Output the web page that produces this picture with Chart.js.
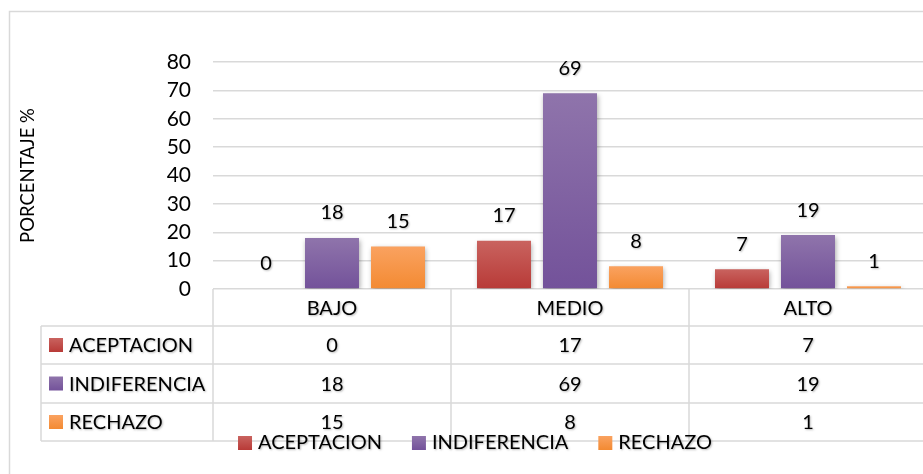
<!DOCTYPE html>
<html>
<head>
<meta charset="utf-8">
<script src="https://cdn.jsdelivr.net/npm/chart.js@4.4.1/dist/chart.umd.min.js"></script>
<style>
  html, body { margin: 0; padding: 0; background: #fff; overflow: hidden; }
  #wrap { position: relative; width: 932px; height: 474px; }
</style>
</head>
<body>
<div id="wrap"><canvas id="chart"></canvas></div>
<script>
// --- data ---
const categories = ['BAJO', 'MEDIO', 'ALTO'];
const aceptacion = [0, 17, 7];
const indiferencia = [18, 69, 19];
const rechazo = [15, 8, 1];
const seriesNames = ['ACEPTACION', 'INDIFERENCIA', 'RECHAZO'];
const yTicks = [0, 10, 20, 30, 40, 50, 60, 70, 80];

const FONT = 'Lato, "Open Sans", sans-serif';
const GRID = '#d9d9d9';

// light top -> dark bottom, like the Excel fill
const palette = [
    { top: '#c9635f', bottom: '#b83a37' },
    { top: '#8f74ab', bottom: '#73529a' },
    { top: '#faa260', bottom: '#f38a32' }
];

function barFill(idx) {
    return (c) => {
        const chart = c.chart;
        const y = chart.scales && chart.scales.y;
        if (!y || c.type !== 'data') return palette[idx].bottom;
        const top = y.getPixelForValue(c.raw);
        const base = y.getPixelForValue(0);
        if (!isFinite(top) || !isFinite(base) || Math.abs(base - top) < 1) return palette[idx].bottom;
        const g = chart.ctx.createLinearGradient(0, top, 0, base);
        g.addColorStop(0, palette[idx].top);
        g.addColorStop(1, palette[idx].bottom);
        return g;
    };
}

function keyBox(ctx, idx, x, y, s) {
    const g = ctx.createLinearGradient(0, y, 0, y + s);
    g.addColorStop(0, palette[idx].top);
    g.addColorStop(1, palette[idx].bottom);
    ctx.fillStyle = g;
    ctx.fillRect(x, y, s, s);
}

// light text shadow like the Excel style
function textShadow(ctx, on) {
    ctx.shadowColor = on ? 'rgba(0,0,0,0.28)' : 'transparent';
    ctx.shadowBlur = on ? 2 : 0;
    ctx.shadowOffsetX = on ? 1 : 0;
    ctx.shadowOffsetY = on ? 1 : 0;
}

// outer frame of the chart object
const framePlugin = {
    id: 'frame',
    beforeDraw(chart) {
        const ctx = chart.ctx;
        ctx.save();
        ctx.strokeStyle = GRID;
        ctx.lineWidth = 1.5;
        ctx.strokeRect(9.5, 11.5, chart.width + 20, chart.height + 20);
        ctx.restore();
    }
};

// soft shadow under the bars
const shadowPlugin = {
    id: 'barShadow',
    beforeDatasetsDraw(chart) {
        const ctx = chart.ctx;
        ctx.save();
        ctx.shadowColor = 'rgba(0,0,0,0.35)';
        ctx.shadowBlur = 5;
        ctx.shadowOffsetX = 1;
        ctx.shadowOffsetY = 2;
    },
    afterDatasetsDraw(chart) {
        chart.ctx.restore();
    }
};

// value labels above each bar
const valueLabels = {
    id: 'valueLabels',
    afterDatasetsDraw(chart) {
        const ctx = chart.ctx;
        ctx.save();
        ctx.font = '20px ' + FONT;
        ctx.fillStyle = '#000';
        ctx.textAlign = 'center';
        ctx.textBaseline = 'middle';
        textShadow(ctx, true);
        chart.data.datasets.forEach((ds, di) => {
            chart.getDatasetMeta(di).data.forEach((bar, i) => {
                ctx.fillText(String(ds.data[i]), bar.x, bar.y - 25);
            });
        });
        ctx.restore();
    }
};

// data table under the plot + the legend line
const dataTable = {
    id: 'dataTable',
    afterDraw(chart) {
        const ctx = chart.ctx;
        const xs = chart.scales.x;
        const area = chart.chartArea;
        const half = (xs.getPixelForValue(1) - xs.getPixelForValue(0)) / 2;
        const tableLeft = 41;
        const headTop = area.bottom;
        const rows = [326, 364, 403, 441];
        const colEdges = [area.left];
        categories.forEach((c, i) => colEdges.push(xs.getPixelForValue(i) + half));

        ctx.save();
        ctx.strokeStyle = GRID;
        ctx.lineWidth = 1.5;
        ctx.beginPath();
        rows.forEach(r => {
            ctx.moveTo(tableLeft, r);
            ctx.lineTo(chart.width + 5, r);
        });
        ctx.moveTo(tableLeft, rows[0]);
        ctx.lineTo(tableLeft, rows[3]);
        colEdges.forEach(x => {
            ctx.moveTo(x, headTop);
            ctx.lineTo(x, rows[3]);
        });
        ctx.stroke();

        ctx.font = '20px ' + FONT;
        ctx.fillStyle = '#000';
        ctx.textBaseline = 'middle';
        ctx.textAlign = 'center';
        textShadow(ctx, true);
        categories.forEach((c, i) => {
            ctx.fillText(c, xs.getPixelForValue(i), (headTop + rows[0]) / 2 + 1);
        });
        chart.data.datasets.forEach((ds, di) => {
            const cy = (rows[di] + rows[di + 1]) / 2 + 1;
            textShadow(ctx, false);
            keyBox(ctx, di, 49, cy - 8, 14);
            textShadow(ctx, true);
            ctx.textAlign = 'left';
            ctx.fillStyle = '#000';
            ctx.fillText(ds.label, 69, cy);
            ctx.textAlign = 'center';
            ds.data.forEach((v, i) => {
                ctx.fillText(String(v), xs.getPixelForValue(i), cy);
            });
        });

        // legend
        const gap = 30, box = 14, pad = 6;
        const widths = chart.data.datasets.map(ds => ctx.measureText(ds.label).width);
        const total = widths.reduce((a, w) => a + box + pad + w, 0) + gap * (widths.length - 1);
        let lx = 475 - total / 2;
        const ly = 443;
        ctx.textAlign = 'left';
        chart.data.datasets.forEach((ds, di) => {
            textShadow(ctx, false);
            keyBox(ctx, di, lx, ly - 7, box);
            textShadow(ctx, true);
            ctx.fillStyle = '#000';
            ctx.fillText(ds.label, lx + box + pad, ly);
            lx += box + pad + widths[di] + gap;
        });
        ctx.restore();
    }
};

const ctx = document.getElementById('chart').getContext('2d');
new Chart(ctx, {
    type: 'bar',
    data: {
        labels: categories,
        datasets: [
            { label: seriesNames[0], data: aceptacion, backgroundColor: barFill(0) },
            { label: seriesNames[1], data: indiferencia, backgroundColor: barFill(1) },
            { label: seriesNames[2], data: rechazo, backgroundColor: barFill(2) }
        ]
    },
    options: {
        responsive: true,
        maintainAspectRatio: false,
        animation: false,
        categoryPercentage: 0.832,
        barPercentage: 0.818,
        layout: { padding: { top: 62, bottom: 185, left: 0, right: 5 } },
        plugins: {
            legend: { display: false },
            tooltip: { enabled: false }
        },
        scales: {
            x: { display: false },
            y: {
                min: 0,
                max: 80,
                afterBuildTicks(scale) {
                    scale.ticks = yTicks.map(v => ({ value: v }));
                },
                afterFit(scale) { scale.width = 213; },
                border: { display: false },
                grid: { color: GRID, lineWidth: 1.5, drawTicks: false },
                ticks: { padding: 22, color: '#000', font: { family: FONT, size: 21 } },
                title: {
                    display: true,
                    text: 'PORCENTAJE %',
                    color: '#000',
                    padding: { top: 17 },
                    font: { family: FONT, size: 18.5 }
                }
            }
        }
    },
    plugins: [framePlugin, shadowPlugin, valueLabels, dataTable]
});
</script>
</body>
</html>
